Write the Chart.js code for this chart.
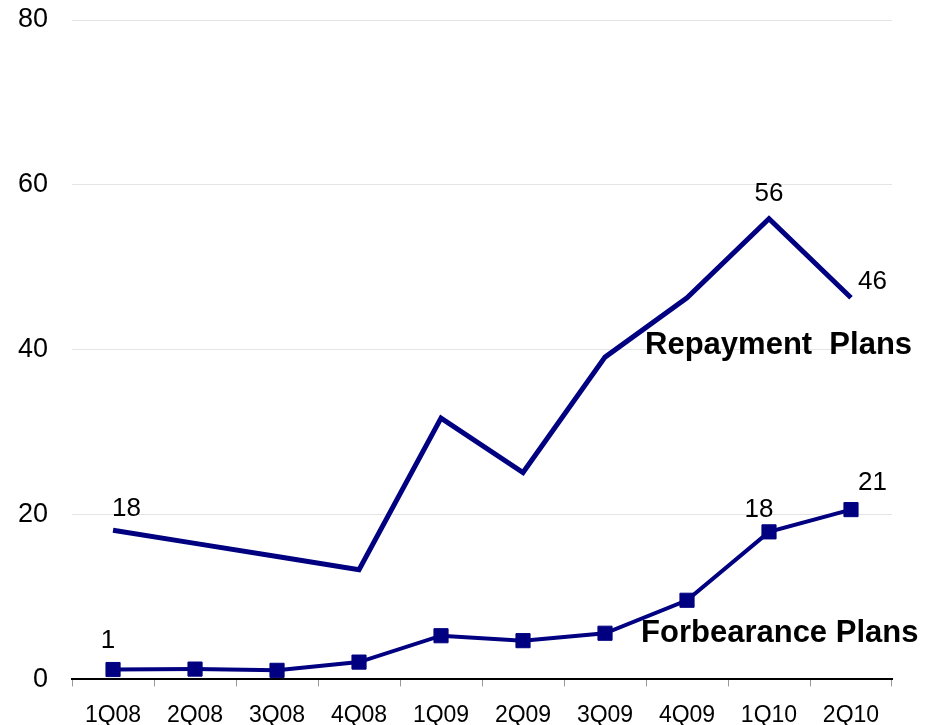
<!DOCTYPE html>
<html>
<head>
<meta charset="utf-8">
<script src="https://cdn.jsdelivr.net/npm/chart.js@4.4.0/dist/chart.umd.min.js"></script>
<style>
  html, body { margin: 0; padding: 0; background: #fff; }
  #wrap { width: 940px; height: 725px; }
</style>
</head>
<body>
<div id="wrap"><canvas id="chart-plans"></canvas></div>
<script>
'use strict';

var quarters = ['1Q08', '2Q08', '3Q08', '4Q08', '1Q09', '2Q09', '3Q09', '4Q09', '1Q10', '2Q10'];
var repayment_plans = [18.1, 16.5, 14.9, 13.3, 31.7, 25.1, 39.1, 46.3, 55.9, 46.3];
var forbearance_plans = [1.2, 1.25, 1.1, 2.1, 5.3, 4.7, 5.6, 9.6, 17.9, 20.6];
var y_ticks = [0, 20, 40, 60, 80];

// which points carry a value label: [dataset, index, text, dx, dy, align]
var value_labels = [
    [0, 0, '18', -1, -14, 'left'],
    [0, 8, '56', 0, -18, 'center'],
    [0, 9, '46', 7, -9, 'left'],
    [1, 0, '1', -5, -22, 'center'],
    [1, 8, '18', -10, -15, 'center'],
    [1, 9, '21', 7, -20, 'left']
];

var navy = '#000080';

var labelPlugin = {
    id: 'labelPlugin',
    afterDatasetsDraw: function(chart) {
        var ctx = chart.ctx;
        ctx.save();
        ctx.fillStyle = '#000';
        ctx.textBaseline = 'alphabetic';
        ctx.font = '26px "Liberation Sans", Arial, sans-serif';
        value_labels.forEach(function(l) {
            var pt = chart.getDatasetMeta(l[0]).data[l[1]];
            ctx.textAlign = l[5];
            ctx.fillText(l[2], pt.x + l[3], pt.y + l[4]);
        });

        // series names
        var area = chart.chartArea;
        ctx.textAlign = 'left';
        ctx.font = 'bold 31px "Liberation Sans", Arial, sans-serif';
        ctx.fillText('Repayment  Plans', area.left + 573, area.top + 334);
        ctx.fillText('Forbearance Plans', area.left + 569, area.top + 622);
        ctx.restore();
    }
};

var ctx_plans = document.getElementById('chart-plans').getContext('2d');

var chart_plans = new Chart(ctx_plans, {
    type: 'line',
    data: {
        labels: quarters,
        datasets: [{
                label: 'Repayment Plans',
                data: repayment_plans,
                borderColor: navy,
                backgroundColor: navy,
                borderWidth: 5,
                pointRadius: 0,
                tension: 0
            },
            {
                label: 'Forbearance Plans',
                data: forbearance_plans,
                borderColor: navy,
                backgroundColor: navy,
                borderWidth: 4,
                pointStyle: 'rect',
                pointRadius: 10,
                pointBorderWidth: 1,
                tension: 0
            }
        ]
    },
    options: {
        responsive: true,
        maintainAspectRatio: false,
        animation: false,
        layout: {
            padding: { top: 20, right: 48, bottom: -19, left: -6 }
        },
        plugins: {
            legend: { display: false },
            tooltip: { enabled: false }
        },
        scales: {
            x: {
                offset: true,
                grid: {
                    offset: true,
                    drawOnChartArea: false,
                    drawTicks: true,
                    tickLength: 7,
                    color: '#999'
                },
                border: { display: true, color: '#000', width: 2 },
                ticks: {
                    color: '#000',
                    padding: 15,
                    maxRotation: 0,
                    font: { family: '"Liberation Sans", Arial, sans-serif', size: 23 }
                }
            },
            y: {
                min: 0,
                max: 80,
                afterBuildTicks: function(axis) {
                    axis.ticks = y_ticks.map(function(v) { return { value: v }; });
                },
                afterFit: function(axis) {
                    axis.paddingTop = 0;
                },
                grid: {
                    color: '#e4e4e4',
                    drawTicks: false
                },
                border: { display: false },
                ticks: {
                    color: '#000',
                    padding: 24,
                    font: { family: '"Liberation Sans", Arial, sans-serif', size: 27 }
                }
            }
        }
    },
    plugins: [labelPlugin]
});
</script>
</body>
</html>
